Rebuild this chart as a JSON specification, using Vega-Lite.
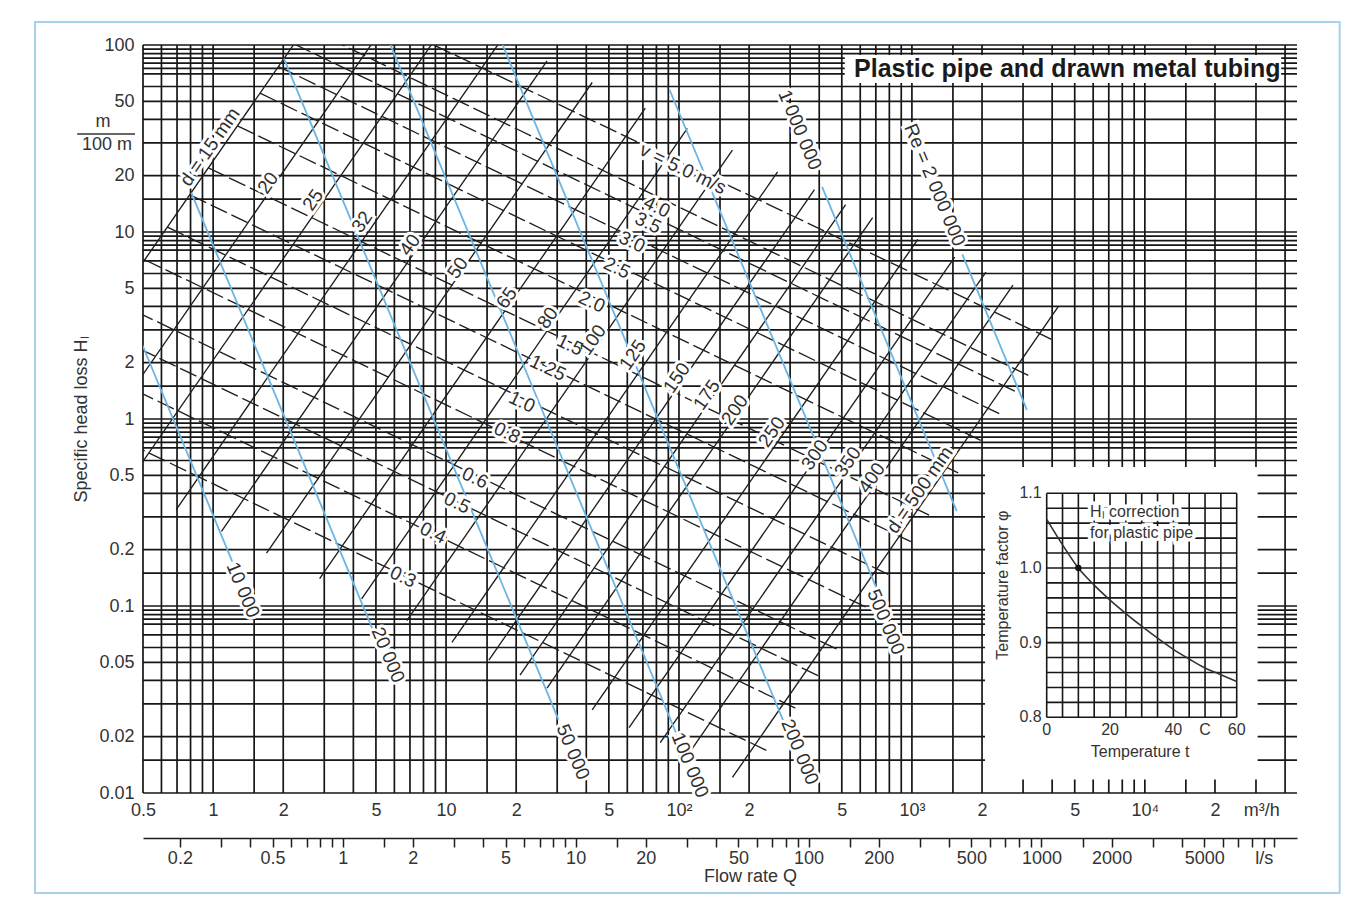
{
"$schema":"https://vega.github.io/schema/vega-lite/v6.json",
"width":1154,"height":748,
"autosize":{"type":"none"},
"padding":{"left":143,"top":45,"right":65,"bottom":122},
"background":"white",
"config":{"view":{"stroke":null},"font":"Liberation Sans"},
"datasets":{
"frame":[{"q1":0.172,"q2":68600,"h1":0.00292,"h2":132.8}],
"vgrid":[{"q":0.5},{"q":0.6},{"q":0.7},{"q":0.8},{"q":0.9},{"q":1},{"q":1.5},{"q":2},{"q":3},{"q":4},{"q":5},{"q":6},{"q":7},{"q":8},{"q":9},{"q":10},{"q":15},{"q":20},{"q":30},{"q":40},{"q":50},{"q":60},{"q":70},{"q":80},{"q":90},{"q":100},{"q":150},{"q":200},{"q":300},{"q":400},{"q":500},{"q":600},{"q":700},{"q":800},{"q":900},{"q":1000},{"q":1500},{"q":2000},{"q":3000},{"q":4000},{"q":5000},{"q":6000},{"q":7000},{"q":8000},{"q":9000},{"q":10000},{"q":15000},{"q":20000},{"q":30000},{"q":40000}],
"hgrid":[{"h":0.01},{"h":0.015},{"h":0.02},{"h":0.03},{"h":0.04},{"h":0.05},{"h":0.06},{"h":0.07},{"h":0.08},{"h":0.085},{"h":0.09},{"h":0.095},{"h":0.1},{"h":0.15},{"h":0.2},{"h":0.3},{"h":0.4},{"h":0.5},{"h":0.6},{"h":0.7},{"h":0.75},{"h":0.8},{"h":0.85},{"h":0.9},{"h":0.95},{"h":1},{"h":1.5},{"h":2},{"h":3},{"h":4},{"h":5},{"h":6},{"h":7},{"h":8},{"h":8.5},{"h":9},{"h":9.5},{"h":10},{"h":15},{"h":20},{"h":30},{"h":40},{"h":50},{"h":60},{"h":70},{"h":75},{"h":80},{"h":85},{"h":90},{"h":95},{"h":100}],
"boxes":[{"q1":515,"q2":38500,"h1":62.6,"h2":88.4},{"q1":2060,"q2":30500,"h1":0.0118,"h2":0.553}],
"dlines":[
{"d":15,"q1":0.1527,"h1":0.814,"q2":3.816,"h2":267.3},
{"d":20,"q1":0.2714,"h1":0.5763,"q2":6.784,"h2":189.2},
{"d":25,"q1":0.4239,"h1":0.4408,"q2":10.60,"h2":144.8},
{"d":32,"q1":0.6946,"h1":0.3280,"q2":17.36,"h2":107.7},
{"d":40,"q1":1.086,"h1":0.2508,"q2":27.14,"h2":82.35},
{"d":50,"q1":1.696,"h1":0.1919,"q2":42.41,"h2":63.02},
{"d":65,"q1":2.866,"h1":0.1401,"q2":71.66,"h2":46.0},
{"d":80,"q1":4.342,"h1":0.1092,"q2":108.6,"h2":35.85},
{"d":100,"q1":6.784,"h1":0.08352,"q2":169.6,"h2":27.43},
{"d":125,"q1":10.60,"h1":0.06389,"q2":265.0,"h2":20.98},
{"d":150,"q1":15.27,"h1":0.05135,"q2":381.6,"h2":16.86},
{"d":175,"q1":20.77,"h1":0.04268,"q2":519.4,"h2":14.02},
{"d":200,"q1":27.13,"h1":0.03635,"q2":678.4,"h2":11.94},
{"d":250,"q1":42.39,"h1":0.0278,"q2":1060,"h2":9.135},
{"d":300,"q1":61.05,"h1":0.02235,"q2":1527,"h2":7.339},
{"d":350,"q1":83.12,"h1":0.01857,"q2":2078,"h2":6.099},
{"d":400,"q1":108.6,"h1":0.01583,"q2":2715,"h2":5.195},
{"d":500,"q1":169.6,"h1":0.01211,"q2":4241,"h2":3.975}],
"vlines":[
{"v":0.3,"q1":0.1909,"h1":1.216,"q2":238.2,"h2":0.01687},
{"v":0.4,"q1":0.2544,"h1":2.041,"q2":317.7,"h2":0.02831},
{"v":0.5,"q1":0.3181,"h1":3.050,"q2":397.1,"h2":0.04231},
{"v":0.6,"q1":0.3818,"h1":4.236,"q2":476.6,"h2":0.05875},
{"v":0.8,"q1":0.5087,"h1":7.107,"q2":635.3,"h2":0.09858},
{"v":1.0,"q1":0.6362,"h1":10.62,"q2":794.1,"h2":0.1473},
{"v":1.25,"q1":0.7950,"h1":15.79,"q2":992.7,"h2":0.2202},
{"v":1.5,"q1":0.9541,"h1":22.03,"q2":1191,"h2":0.3056},
{"v":2.0,"q1":1.272,"h1":36.98,"q2":1588,"h2":0.5129},
{"v":2.5,"q1":1.590,"h1":55.24,"q2":1985,"h2":0.7665},
{"v":3.0,"q1":1.908,"h1":76.71,"q2":2382,"h2":1.064},
{"v":3.5,"q1":2.226,"h1":101.3,"q2":2780,"h2":1.405},
{"v":4.0,"q1":2.544,"h1":123.0,"q2":3177,"h2":1.706},
{"v":5.0,"q1":3.180,"h1":183.8,"q2":3971,"h2":2.669}],
"relines":[
{"re":10000,"q1":0.4029,"h1":4.667,"q2":1.215,"h2":0.1702},
{"re":20000,"q1":0.8058,"h1":16.25,"q2":4.861,"h2":0.07404},
{"re":50000,"q1":2.014,"h1":84.58,"q2":30.38,"h2":0.02466},
{"re":100000,"q1":4.029,"h1":294.4,"q2":98.83,"h2":0.01993},
{"re":200000,"q1":14.58,"h1":173.0,"q2":284.1,"h2":0.02339},
{"re":500000,"q1":91.12,"h1":57.63,"q2":721.8,"h2":0.1159},
{"re":1000000,"q1":411.5,"h1":17.43,"q2":1557,"h2":0.3213},
{"re":2000000,"q1":1646,"h1":7.586,"q2":3115,"h2":1.119}],
"dlabels":[
{"t":"d = 15 mm","q":0.9694,"h":28.48},
{"t":"20","q":1.720,"h":18.28},
{"t":"25","q":2.684,"h":14.83},
{"t":"32","q":4.355,"h":11.31},
{"t":"40","q":6.998,"h":8.522},
{"t":"50","q":11.24,"h":6.421},
{"t":"65","q":18.25,"h":4.438},
{"t":"80","q":27.36,"h":3.469},
{"t":"100","q":42.69,"h":2.646},
{"t":"125","q":63.39,"h":2.199},
{"t":"150","q":97.9,"h":1.657},
{"t":"175","q":131.7,"h":1.344},
{"t":"200","q":173.7,"h":1.117},
{"t":"250","q":250.4,"h":0.8521},
{"t":"300","q":382.9,"h":0.6420},
{"t":"350","q":530.6,"h":0.5890},
{"t":"400","q":672.6,"h":0.4836},
{"t":"d = 500 mm","q":1081,"h":0.4173}],
"vlabels":[
{"t":"0.3","q":6.53,"h":0.1429},
{"t":"0.4","q":8.782,"h":0.2457},
{"t":"0.5","q":11.13,"h":0.3555},
{"t":"0.6","q":13.3,"h":0.4836},
{"t":"0.8","q":18.25,"h":0.8417},
{"t":"1.0","q":21.17,"h":1.233},
{"t":"1.25","q":27.36,"h":1.874},
{"t":"1.5","q":34.01,"h":2.487},
{"t":"2.0","q":42.27,"h":4.224},
{"t":"2.5","q":54.12,"h":6.421},
{"t":"3.0","q":62.8,"h":8.841},
{"t":"3.5","q":73.53,"h":11.17},
{"t":"4.0","q":80.35,"h":13.61},
{"t":"v = 5.0 m/s","q":103.9,"h":21.73}],
"relabels":[
{"t":"10 000","q":1.343,"h":0.1218},
{"t":"20 000","q":5.63,"h":0.0547},
{"t":"50 000","q":35.04,"h":0.01657},
{"t":"100 000","q":111.4,"h":0.01411},
{"t":"200 000","q":330.2,"h":0.01657},
{"t":"500 000","q":772.4,"h":0.0821},
{"t":"1 000 000","q":330.2,"h":35.12},
{"t":"Re = 2 000 000","q":1253,"h":17.84}],
"ivgrid":[{"t":0,"p1":0.8,"p2":1.1},{"t":5,"p1":0.8,"p2":1.1},{"t":10,"p1":0.8,"p2":1.1},{"t":15,"p1":0.8,"p2":1.1},{"t":20,"p1":0.8,"p2":1.1},{"t":25,"p1":0.8,"p2":1.1},{"t":30,"p1":0.8,"p2":1.1},{"t":35,"p1":0.8,"p2":1.1},{"t":40,"p1":0.8,"p2":1.1},{"t":45,"p1":0.8,"p2":1.1},{"t":50,"p1":0.8,"p2":1.1},{"t":55,"p1":0.8,"p2":1.1},{"t":60,"p1":0.8,"p2":1.1}],
"ihgrid":[{"p":0.8,"t1":0,"t2":60},{"p":0.82,"t1":0,"t2":60},{"p":0.84,"t1":0,"t2":60},{"p":0.86,"t1":0,"t2":60},{"p":0.88,"t1":0,"t2":60},{"p":0.9,"t1":0,"t2":60},{"p":0.92,"t1":0,"t2":60},{"p":0.94,"t1":0,"t2":60},{"p":0.96,"t1":0,"t2":60},{"p":0.98,"t1":0,"t2":60},{"p":1.0,"t1":0,"t2":60},{"p":1.02,"t1":0,"t2":60},{"p":1.04,"t1":0,"t2":60},{"p":1.06,"t1":0,"t2":60},{"p":1.08,"t1":0,"t2":60},{"p":1.1,"t1":0,"t2":60}],
"icurve":[{"t":0,"p":1.065},{"t":5,"p":1.031},{"t":10,"p":1.0},{"t":15,"p":0.977},{"t":20,"p":0.957},{"t":25,"p":0.939},{"t":30,"p":0.922},{"t":35,"p":0.906},{"t":40,"p":0.891},{"t":45,"p":0.878},{"t":50,"p":0.866},{"t":55,"p":0.857},{"t":60,"p":0.848}],
"iylab":[{"t":0,"p":1.1,"s":"1.1"},{"t":0,"p":1.0,"s":"1.0"},{"t":0,"p":0.9,"s":"0.9"},{"t":0,"p":0.8,"s":"0.8"}],
"ixlab":[{"t":0,"p":0.8,"s":"0"},{"t":20,"p":0.8,"s":"20"},{"t":40,"p":0.8,"s":"40"},{"t":50,"p":0.8,"s":"C"},{"t":60,"p":0.8,"s":"60"}],
"inote":[{"t":13.7,"p":1.0754,"s":"Hₗ correction"},{"t":13.7,"p":1.0464,"s":"for plastic pipe"}]
},
"layer":[
{"data":{"name":"frame"},"mark":{"type":"rect","fill":"white","fillOpacity":0,"stroke":"#a6d0ec","strokeWidth":2,"clip":false},
 "encoding":{"x":{"field":"q1","type":"quantitative","scale":{"type":"log","domain":[0.5,45000],"nice":false},"axis":null},"x2":{"field":"q2"},
 "y":{"field":"h1","type":"quantitative","scale":{"type":"log","domain":[0.01,100],"nice":false},"axis":null},"y2":{"field":"h2"}}},
{"data":{"name":"vgrid"},"mark":{"type":"rule","color":"#161616","strokeWidth":1.7},
 "encoding":{"x":{"field":"q","type":"quantitative","scale":{"type":"log","domain":[0.5,45000],"nice":false},
  "axis":{"orient":"bottom","values":[0.5,1,2,5,10,20,50,100,200,500,1000,2000,5000,10000,20000,31623],
   "labelExpr":"datum.value == 100 ? '10²' : datum.value == 1000 ? '10³' : datum.value == 10000 ? '10⁴' : datum.value > 30000 ? 'm³/h' : datum.value >= 20 ? format(datum.value / pow(10, floor(log(datum.value)/LN10)), '~g') : format(datum.value, '~g')",
   "ticks":false,"tickSize":0,"domain":false,"grid":false,"labelFontSize":18,"labelColor":"#333","labelPadding":8,"labelFlush":false,"labelOverlap":false,"title":null}}}},
{"data":{"name":"hgrid"},"mark":{"type":"rule","color":"#161616","strokeWidth":1.7},
 "encoding":{"y":{"field":"h","type":"quantitative","scale":{"type":"log","domain":[0.01,100],"nice":false},
  "axis":{"orient":"left","values":[0.01,0.02,0.05,0.1,0.2,0.5,1,2,5,10,20,50,100],"labelExpr":"format(datum.value, '~g')",
   "ticks":false,"tickSize":0,"domain":false,"grid":false,"labelFontSize":18,"labelColor":"#333","labelPadding":9,"labelFlush":false,"labelOverlap":false,
   "title":"Specific head loss Hₗ","titleFontSize":18,"titleFontWeight":"normal","titleColor":"#333","titleX":-62,"titleY":374,"titleAngle":-90,"titleAlign":"center","titleBaseline":"middle"}}}},
{"data":{"name":"boxes"},"mark":{"type":"rect","color":"white"},
 "encoding":{"x":{"field":"q1","type":"quantitative","scale":{"type":"log","domain":[0.5,45000],"nice":false},"axis":null},"x2":{"field":"q2"},
 "y":{"field":"h1","type":"quantitative","scale":{"type":"log","domain":[0.01,100],"nice":false},"axis":null},"y2":{"field":"h2"}}},
{"data":{"name":"dlines"},"mark":{"type":"rule","color":"#1e1e1e","strokeWidth":1.35,"clip":true},
 "encoding":{"x":{"field":"q1","type":"quantitative","scale":{"type":"log","domain":[0.5,45000],"nice":false},"axis":null},"x2":{"field":"q2"},
 "y":{"field":"h1","type":"quantitative","scale":{"type":"log","domain":[0.01,100],"nice":false},"axis":null},"y2":{"field":"h2"}}},
{"data":{"name":"vlines"},"mark":{"type":"rule","color":"#1e1e1e","strokeWidth":1.35,"strokeDash":[18,5],"clip":true},
 "encoding":{"x":{"field":"q1","type":"quantitative","scale":{"type":"log","domain":[0.5,45000],"nice":false},"axis":null},"x2":{"field":"q2"},
 "y":{"field":"h1","type":"quantitative","scale":{"type":"log","domain":[0.01,100],"nice":false},"axis":null},"y2":{"field":"h2"}}},
{"data":{"name":"relines"},"mark":{"type":"rule","color":"#6cb4e4","strokeWidth":1.8,"clip":true},
 "encoding":{"x":{"field":"q1","type":"quantitative","scale":{"type":"log","domain":[0.5,45000],"nice":false},"axis":null},"x2":{"field":"q2"},
 "y":{"field":"h1","type":"quantitative","scale":{"type":"log","domain":[0.01,100],"nice":false},"axis":null},"y2":{"field":"h2"}}},
{"data":{"name":"dlabels"},"mark":{"type":"text","angle":-55.3,"fontSize":19,"fill":"white","stroke":"white","strokeWidth":6,"align":"center","baseline":"middle"},
 "encoding":{"x":{"field":"q","type":"quantitative","scale":{"type":"log","domain":[0.5,45000],"nice":false},"axis":null},"y":{"field":"h","type":"quantitative","scale":{"type":"log","domain":[0.01,100],"nice":false},"axis":null},"text":{"field":"t"}}},
{"data":{"name":"vlabels"},"mark":{"type":"text","angle":25.7,"fontSize":19,"fill":"white","stroke":"white","strokeWidth":6,"align":"center","baseline":"middle"},
 "encoding":{"x":{"field":"q","type":"quantitative","scale":{"type":"log","domain":[0.5,45000],"nice":false},"axis":null},"y":{"field":"h","type":"quantitative","scale":{"type":"log","domain":[0.01,100],"nice":false},"axis":null},"text":{"field":"t"}}},
{"data":{"name":"relabels"},"mark":{"type":"text","angle":67.4,"fontSize":19,"fill":"white","stroke":"white","strokeWidth":6,"align":"center","baseline":"middle"},
 "encoding":{"x":{"field":"q","type":"quantitative","scale":{"type":"log","domain":[0.5,45000],"nice":false},"axis":null},"y":{"field":"h","type":"quantitative","scale":{"type":"log","domain":[0.01,100],"nice":false},"axis":null},"text":{"field":"t"}}},
{"data":{"name":"dlabels"},"mark":{"type":"text","angle":-55.3,"fontSize":19,"color":"#2e2e2e","align":"center","baseline":"middle"},
 "encoding":{"x":{"field":"q","type":"quantitative","scale":{"type":"log","domain":[0.5,45000],"nice":false},"axis":null},"y":{"field":"h","type":"quantitative","scale":{"type":"log","domain":[0.01,100],"nice":false},"axis":null},"text":{"field":"t"}}},
{"data":{"name":"vlabels"},"mark":{"type":"text","angle":25.7,"fontSize":19,"color":"#2e2e2e","align":"center","baseline":"middle"},
 "encoding":{"x":{"field":"q","type":"quantitative","scale":{"type":"log","domain":[0.5,45000],"nice":false},"axis":null},"y":{"field":"h","type":"quantitative","scale":{"type":"log","domain":[0.01,100],"nice":false},"axis":null},"text":{"field":"t"}}},
{"data":{"name":"relabels"},"mark":{"type":"text","angle":67.4,"fontSize":19,"color":"#2e2e2e","align":"center","baseline":"middle"},
 "encoding":{"x":{"field":"q","type":"quantitative","scale":{"type":"log","domain":[0.5,45000],"nice":false},"axis":null},"y":{"field":"h","type":"quantitative","scale":{"type":"log","domain":[0.01,100],"nice":false},"axis":null},"text":{"field":"t"}}},
{"data":{"values":[{"t":"Plastic pipe and drawn metal tubing","q":4644,"h":74.4}]},"mark":{"type":"text","fontSize":25,"fontWeight":"bold","color":"#1a1a1a","align":"center","baseline":"middle"},
 "encoding":{"x":{"field":"q","type":"quantitative","scale":{"type":"log","domain":[0.5,45000],"nice":false},"axis":null},"y":{"field":"h","type":"quantitative","scale":{"type":"log","domain":[0.01,100],"nice":false},"axis":null},"text":{"field":"t"}}},
{"data":{"values":[{"t":"m","q":0.3367,"h":38.74},{"t":"100 m","q":0.3503,"h":29.19}]},"mark":{"type":"text","fontSize":18,"color":"#333","align":"center","baseline":"middle","clip":false},
 "encoding":{"x":{"field":"q","type":"quantitative","scale":{"type":"log","domain":[0.5,45000],"nice":false},"axis":null},"y":{"field":"h","type":"quantitative","scale":{"type":"log","domain":[0.01,100],"nice":false},"axis":null},"text":{"field":"t"}}},
{"data":{"values":[{"q1":0.2608,"q2":0.4621,"h":33.43}]},"mark":{"type":"rule","color":"#333","strokeWidth":1.5,"clip":false},
 "encoding":{"x":{"field":"q1","type":"quantitative","scale":{"type":"log","domain":[0.5,45000],"nice":false},"axis":null},"x2":{"field":"q2"},"y":{"field":"h","type":"quantitative","scale":{"type":"log","domain":[0.01,100],"nice":false},"axis":null}}},
{"data":{"values":[{"qls":1}]},"mark":{"type":"point","opacity":0},
 "encoding":{"x":{"field":"qls","type":"quantitative","scale":{"type":"log","domain":[0.138889,12500],"nice":false},
  "axis":{"orient":"bottom","offset":45,
   "values":[0.2,0.3,0.4,0.5,0.6,0.7,0.8,0.9,1,1.5,2,3,4,5,6,7,8,9,10,15,20,30,40,50,60,70,80,90,100,150,200,300,400,500,600,700,800,900,1000,1500,2000,3000,4000,5000,6000,7000,8000,9000,10000],
   "labelExpr":"datum.value == 9000 ? 'l/s' : (indexof([0.2,0.5,1,2,5,10,20,50,100,200,500,1000,2000,5000], datum.value) >= 0 ? format(datum.value, '~g') : '')",
   "domain":true,"domainColor":"#1e1e1e","domainWidth":1.5,"ticks":true,"tickColor":"#1e1e1e","tickWidth":1.5,"tickSize":9,
   "labelFontSize":18,"labelColor":"#333","labelPadding":2,"labelFlush":false,"labelOverlap":false,"grid":false,
   "title":"Flow rate Q","titleFontSize":18,"titleFontWeight":"normal","titleColor":"#333","titleX":607,"titleY":38,"titleAlign":"center","titleBaseline":"middle"}}}},
{"layer":[
{"data":{"name":"ivgrid"},"mark":{"type":"rule","color":"#161616","strokeWidth":1.6},
 "encoding":{"x":{"field":"t","type":"quantitative","scale":{"domain":[0,60],"range":[903.7,1093.7],"nice":false,"zero":false},"axis":null},
 "y":{"field":"p1","type":"quantitative","scale":{"domain":[0.8,1.1],"range":[672.3,448.3],"nice":false,"zero":false},"axis":null},"y2":{"field":"p2"}}},
{"data":{"name":"ihgrid"},"mark":{"type":"rule","color":"#161616","strokeWidth":1.6},
 "encoding":{"x":{"field":"t1","type":"quantitative","scale":{"domain":[0,60],"range":[903.7,1093.7],"nice":false,"zero":false},"axis":null},"x2":{"field":"t2"},
 "y":{"field":"p","type":"quantitative","scale":{"domain":[0.8,1.1],"range":[672.3,448.3],"nice":false,"zero":false},"axis":null}}},
{"data":{"name":"icurve"},"mark":{"type":"line","color":"#333","strokeWidth":1.6,"interpolate":"monotone"},
 "encoding":{"x":{"field":"t","type":"quantitative","scale":{"domain":[0,60],"range":[903.7,1093.7],"nice":false,"zero":false},"axis":null},
 "y":{"field":"p","type":"quantitative","scale":{"domain":[0.8,1.1],"range":[672.3,448.3],"nice":false,"zero":false},"axis":null}}},
{"data":{"values":[{"t":10,"p":1.0}]},"mark":{"type":"point","filled":true,"color":"#111","size":40,"opacity":1},
 "encoding":{"x":{"field":"t","type":"quantitative","scale":{"domain":[0,60],"range":[903.7,1093.7],"nice":false,"zero":false},"axis":null},
 "y":{"field":"p","type":"quantitative","scale":{"domain":[0.8,1.1],"range":[672.3,448.3],"nice":false,"zero":false},"axis":null}}},
{"data":{"name":"iylab"},"mark":{"type":"text","fontSize":16,"color":"#333","align":"right","baseline":"middle","dx":-5},
 "encoding":{"x":{"field":"t","type":"quantitative","scale":{"domain":[0,60],"range":[903.7,1093.7],"nice":false,"zero":false},"axis":null},
 "y":{"field":"p","type":"quantitative","scale":{"domain":[0.8,1.1],"range":[672.3,448.3],"nice":false,"zero":false},"axis":null},"text":{"field":"s"}}},
{"data":{"name":"ixlab"},"mark":{"type":"text","fontSize":16,"color":"#333","align":"center","baseline":"top","dy":5},
 "encoding":{"x":{"field":"t","type":"quantitative","scale":{"domain":[0,60],"range":[903.7,1093.7],"nice":false,"zero":false},"axis":null},
 "y":{"field":"p","type":"quantitative","scale":{"domain":[0.8,1.1],"range":[672.3,448.3],"nice":false,"zero":false},"axis":null},"text":{"field":"s"}}},
{"data":{"values":[{"t":29.5,"p":0.7535,"s":"Temperature t"}]},"mark":{"type":"text","fontSize":16,"color":"#333","align":"center","baseline":"middle"},
 "encoding":{"x":{"field":"t","type":"quantitative","scale":{"domain":[0,60],"range":[903.7,1093.7],"nice":false,"zero":false},"axis":null},
 "y":{"field":"p","type":"quantitative","scale":{"domain":[0.8,1.1],"range":[672.3,448.3],"nice":false,"zero":false},"axis":null},"text":{"field":"s"}}},
{"data":{"values":[{"t":-13.8,"p":0.977,"s":"Temperature factor φ"}]},"mark":{"type":"text","fontSize":16,"color":"#333","align":"center","baseline":"middle","angle":-90},
 "encoding":{"x":{"field":"t","type":"quantitative","scale":{"domain":[0,60],"range":[903.7,1093.7],"nice":false,"zero":false},"axis":null},
 "y":{"field":"p","type":"quantitative","scale":{"domain":[0.8,1.1],"range":[672.3,448.3],"nice":false,"zero":false},"axis":null},"text":{"field":"s"}}},
{"data":{"name":"inote"},"mark":{"type":"text","fontSize":16,"fill":"white","stroke":"white","strokeWidth":7,"align":"left","baseline":"middle"},
 "encoding":{"x":{"field":"t","type":"quantitative","scale":{"domain":[0,60],"range":[903.7,1093.7],"nice":false,"zero":false},"axis":null},
 "y":{"field":"p","type":"quantitative","scale":{"domain":[0.8,1.1],"range":[672.3,448.3],"nice":false,"zero":false},"axis":null},"text":{"field":"s"}}},
{"data":{"name":"inote"},"mark":{"type":"text","fontSize":16,"color":"#333","align":"left","baseline":"middle"},
 "encoding":{"x":{"field":"t","type":"quantitative","scale":{"domain":[0,60],"range":[903.7,1093.7],"nice":false,"zero":false},"axis":null},
 "y":{"field":"p","type":"quantitative","scale":{"domain":[0.8,1.1],"range":[672.3,448.3],"nice":false,"zero":false},"axis":null},"text":{"field":"s"}}}
]}
],
"resolve":{"scale":{"x":"independent","y":"independent"}}
}
